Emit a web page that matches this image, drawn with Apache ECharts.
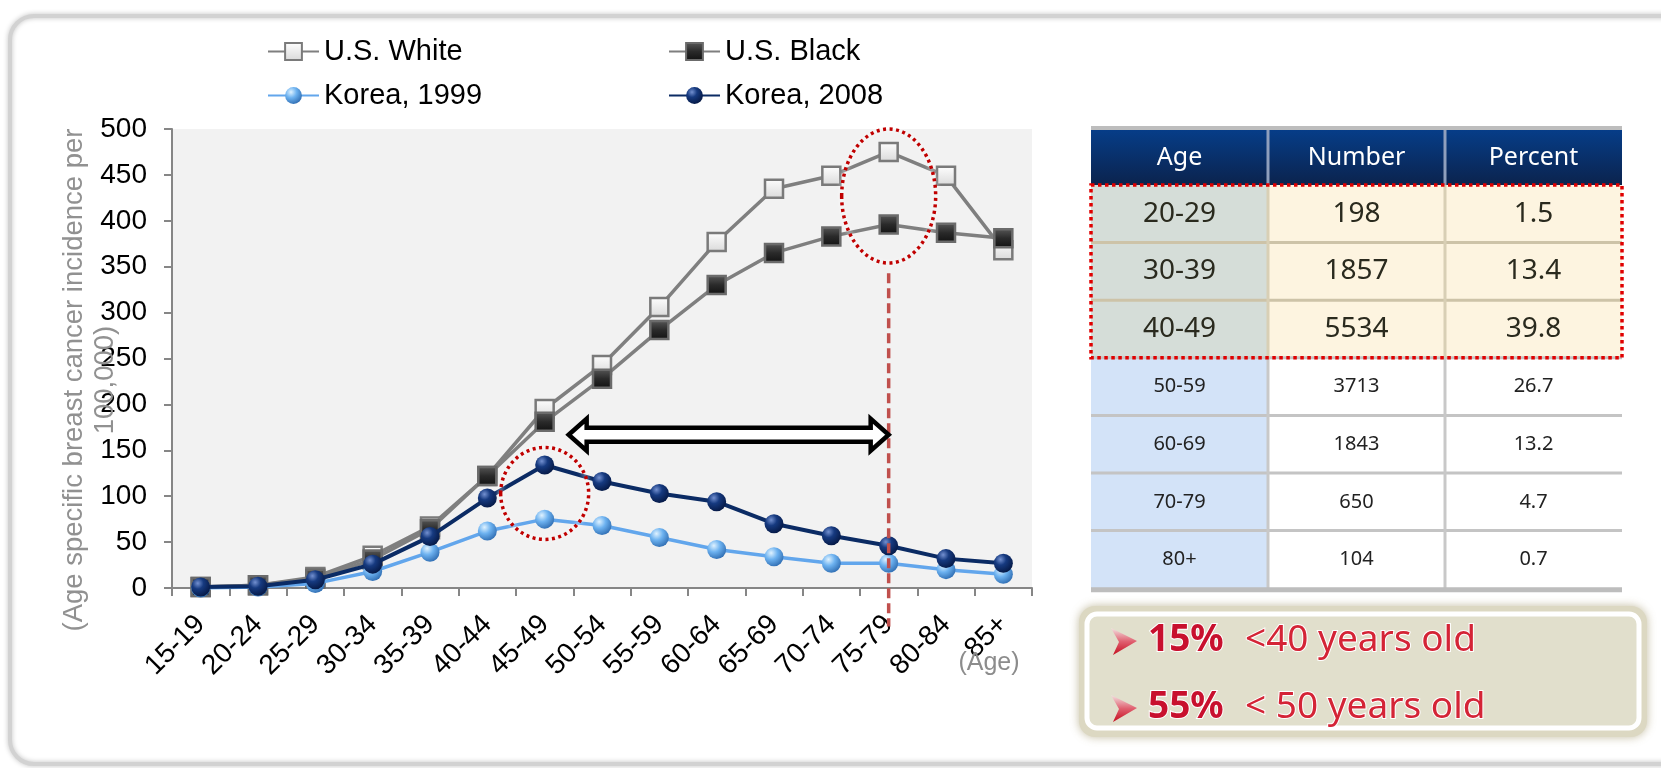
<!DOCTYPE html>
<html><head><meta charset="utf-8">
<script src="https://cdn.jsdelivr.net/npm/echarts@6/dist/echarts.min.js"></script>
<style>html,body{margin:0;padding:0;background:#fff}#c{width:1661px;height:768px}</style>
</head><body><div id="c"></div>
<script>
// ---------- data ----------
const ageGroups = ['15-19','20-24','25-29','30-34','35-39','40-44','45-49','50-54','55-59','60-64','65-69','70-74','75-79','80-84','85+'];
const usWhite   = [1, 3, 12, 35, 67, 122, 195, 243, 306, 377, 435, 449, 475, 449, 368];
const usBlack   = [1, 3, 10, 31, 64, 122, 181, 228, 281, 330, 365, 383, 396, 387, 381];
const korea1999 = [0, 1, 5, 18, 39, 62, 75, 68, 55, 42, 34, 27, 27, 20, 15];
const korea2008 = [1, 2, 9, 26, 56, 98, 134, 116, 103, 94, 70, 57, 46, 32, 27];
const yMin = 0, yMax = 500, yStep = 50;

const tableHeader  = ['Age', 'Number', 'Percent'];
const tableAge     = ['20-29','30-39','40-49','50-59','60-69','70-79','80+'];
const tableNumber  = ['198','1857','5534','3713','1843','650','104'];
const tablePercent = ['1.5','13.4','39.8','26.7','13.2','4.7','0.7'];
const highlightRows = 3;

const notePct  = ['15%', '55%'];
const noteText = ['<40 years old', '< 50 years old'];

const yTitle = '(Age specific breast cancer incidence per\n100,000)';
const xUnit = '(Age)';

// ---------- chart ----------
const chart = echarts.init(document.getElementById('c'), null, {renderer: 'canvas'});
const FF = "'Liberation Sans', Arial, sans-serif";
const G = echarts.graphic;

const whiteFill = new G.LinearGradient(0,0,0,1,[{offset:0,color:'#ffffff'},{offset:1,color:'#d9d9d9'}]);
const blackFill = new G.LinearGradient(0,0,0,1,[{offset:0,color:'#5a5a5a'},{offset:0.5,color:'#2a2a2a'},{offset:1,color:'#111111'}]);
const lightBall = new G.RadialGradient(0.35,0.3,0.75,[{offset:0,color:'#dff2ff'},{offset:0.45,color:'#6db2f0'},{offset:1,color:'#2f6db2'}]);
const darkBall  = new G.RadialGradient(0.35,0.3,0.75,[{offset:0,color:'#7390d0'},{offset:0.4,color:'#163a80'},{offset:1,color:'#051844'}]);

function legendAt(name, left, top) {
  return {data:[name], left:left, top:top, padding:0, itemWidth:51, itemHeight:21,
    textStyle:{fontSize:29, color:'#000', fontFamily:FF}};
}

const option = {
  animation: false,
  backgroundColor: '#ffffff',
  legend: [
    legendAt('U.S. White', 267, 37),
    legendAt('U.S. Black', 668, 37),
    legendAt('Korea, 1999', 267, 81),
    legendAt('Korea, 2008', 668, 81)
  ],
  grid: {left:172, top:129, width:860, height:459, show:true, backgroundColor:'#f2f2f2', borderWidth:0},
  xAxis: {
    type:'category', data: ageGroups, boundaryGap:true,
    axisLine:{show:true, lineStyle:{color:'#868686', width:2}},
    axisTick:{show:true, length:8, alignWithLabel:false, lineStyle:{color:'#868686', width:2}},
    axisLabel:{rotate:45, interval:0, fontSize:28, color:'#000', fontFamily:FF, margin:32},
    splitLine:{show:false}
  },
  yAxis: {
    type:'value', min:yMin, max:yMax, interval:yStep,
    axisLine:{show:true, lineStyle:{color:'#868686', width:2}},
    axisTick:{show:true, length:8, lineStyle:{color:'#868686', width:2}},
    axisLabel:{fontSize:28, color:'#000', fontFamily:FF, margin:25},
    splitLine:{show:false}
  },
  series: [
    {name:'U.S. White', type:'line', data:usWhite, symbol:'rect', symbolSize:18, z:2,
     lineStyle:{color:'#7f7f7f', width:3.5}, itemStyle:{color:whiteFill, borderColor:'#7a7a7a', borderWidth:2.5}},
    {name:'U.S. Black', type:'line', data:usBlack, symbol:'rect', symbolSize:18, z:3,
     lineStyle:{color:'#7f7f7f', width:3.5}, itemStyle:{color:blackFill, borderColor:'#6b6b6b', borderWidth:2.5}},
    {name:'Korea, 1999', type:'line', data:korea1999, symbol:'circle', symbolSize:19, z:4,
     lineStyle:{color:'#62a6ec', width:3.5}, itemStyle:{color:lightBall, borderWidth:0}},
    {name:'Korea, 2008', type:'line', data:korea2008, symbol:'circle', symbolSize:19, z:5,
     lineStyle:{color:'#0b2b64', width:4}, itemStyle:{color:darkBall, borderWidth:0}}
  ]
};
chart.setOption(option);

// ---------- annotations ----------
const px = (cat, val) => chart.convertToPixel({xAxisIndex:0, yAxisIndex:0}, [cat, val]);
const gfx = [];

// outer panel
gfx.push({type:'rect', silent:true, z:-5, shape:{x:10, y:16, width:1700, height:748, r:24},
  style:{fill:'none', stroke:'#d2d2d2', lineWidth:4, shadowBlur:5, shadowColor:'rgba(0,0,0,0.25)'}});

// axis titles
gfx.push({type:'text', z:10, x:90, y:380, rotation:Math.PI/2,
  style:{text:yTitle, fontSize:27.5, lineHeight:31, fill:'#919191', fontFamily:FF, align:'center', verticalAlign:'middle'}});
gfx.push({type:'text', z:10, x:989, y:663,
  style:{text:xUnit, fontSize:25, fill:'#8c8c8c', fontFamily:FF, align:'center', verticalAlign:'middle'}});

// red dotted ellipses
const e1 = px('75-79', 427);
gfx.push({type:'ellipse', z:100, shape:{cx:e1[0], cy:e1[1], rx:47, ry:67},
  style:{fill:'none', stroke:'#c00000', lineWidth:3.5, lineDash:[3,3.5], shadowBlur:4, shadowColor:'#ffffff'}});
const e2 = px('45-49', 103);
gfx.push({type:'ellipse', z:100, shape:{cx:e2[0], cy:e2[1], rx:44, ry:46},
  style:{fill:'none', stroke:'#c00000', lineWidth:3.5, lineDash:[3,3.5], shadowBlur:4, shadowColor:'#ffffff'}});

// dashed vertical line
const d1 = px('75-79', 343), d2 = px('75-79', -42);
gfx.push({type:'line', z:100, shape:{x1:d1[0], y1:d1[1], x2:d2[0], y2:d2[1]},
  style:{stroke:'#c0504d', lineWidth:3.5, lineDash:[10,5]}});

// double arrow
const aR = px('75-79', 167), aL0 = px('45-49', 167);
const xl = aL0[0] + 24, xr = aR[0], ay = aR[1];
const sh = 7, hh = 16, hl = 18;
gfx.push({type:'polygon', z:101, shape:{points:[
  [xl, ay], [xl+hl, ay-hh], [xl+hl, ay-sh], [xr-hl, ay-sh], [xr-hl, ay-hh], [xr, ay],
  [xr-hl, ay+hh], [xr-hl, ay+sh], [xl+hl, ay+sh], [xl+hl, ay+hh]]},
  style:{fill:'#ffffff', stroke:'#000000', lineWidth:4.5, lineJoin:'miter'}});

// ---------- table ----------
const TX = 1091, TW = 177, HY = 130, HH = 55, RY = 185, RH = 57.6;
const TF = "'Noto Sans', sans-serif";
gfx.push({type:'rect', z:5, shape:{x:TX, y:HY-4, width:TW*3, height:4}, style:{fill:'#bdbdbd'}});
gfx.push({type:'rect', z:5, shape:{x:TX, y:HY, width:TW*3, height:HH},
  style:{fill:new G.LinearGradient(0,0,0,1,[{offset:0,color:'#063d88'},{offset:1,color:'#0b234d'}])}});
tableHeader.forEach((h, c) => {
  gfx.push({type:'text', z:7, x:TX + TW*c + TW/2, y:HY + HH/2,
    style:{text:h, fontSize:25, fill:'#ffffff', fontFamily:TF, align:'center', verticalAlign:'middle'}});
});
const nRows = tableAge.length;
for (let r = 0; r < nRows; r++) {
  const y = RY + r*RH, hi = r < highlightRows;
  const cols = [tableAge[r], tableNumber[r], tablePercent[r]];
  cols.forEach((v, c) => {
    const fill = c === 0 ? (hi ? '#d5ddd8' : '#d3e3f8') : (hi ? '#fdf4e0' : '#ffffff');
    gfx.push({type:'rect', z:5, shape:{x:TX + TW*c, y:y, width:TW, height:RH}, style:{fill:fill}});
    gfx.push({type:'text', z:7, x:TX + TW*c + TW/2, y:y + RH/2,
      style:{text:v, fontSize: hi ? 28 : 20, fill: hi ? '#2a2a1e' : '#222222', fontFamily:TF, align:'center', verticalAlign:'middle'}});
  });
  if (r > 0) {
    gfx.push({type:'rect', z:6, shape:{x:TX, y:y-1.5, width:TW*3, height:3},
      style:{fill: r < highlightRows ? '#cdc3a8' : '#c4c4c4'}});
  }
}
for (let c = 1; c < 3; c++) {
  gfx.push({type:'rect', z:6, shape:{x:TX + TW*c - 1.5, y:HY, width:3, height:HH}, style:{fill:'#8f9fbd'}});
  gfx.push({type:'rect', z:6, shape:{x:TX + TW*c - 1.5, y:RY, width:3, height:RH*highlightRows}, style:{fill:'#d8cfb5'}});
  gfx.push({type:'rect', z:6, shape:{x:TX + TW*c - 1.5, y:RY + RH*highlightRows, width:3, height:RH*(nRows-highlightRows)}, style:{fill:'#c8c8c8'}});
}
gfx.push({type:'rect', z:6, shape:{x:TX, y:RY + RH*nRows - 1, width:TW*3, height:5}, style:{fill:'#bdbdbd'}});
gfx.push({type:'rect', z:8, shape:{x:TX, y:RY, width:TW*3, height:RH*highlightRows},
  style:{fill:'none', stroke:'#e00000', lineWidth:3.5, lineDash:[3.5,3.5]}});

// ---------- note box ----------
gfx.push({type:'rect', z:5, shape:{x:1079, y:606, width:568, height:131, r:16},
  style:{fill:'#dcd8c2', shadowBlur:10, shadowColor:'rgba(170,160,120,0.7)'}});
gfx.push({type:'rect', z:6, shape:{x:1087, y:614, width:552, height:114, r:10},
  style:{fill:'#e1dfcc', stroke:'#ffffff', lineWidth:5}});
const noteY = [640, 707];
notePct.forEach((p, i) => {
  const cy = noteY[i] + 1;
  gfx.push({type:'polygon', z:9, shape:{points:[[1137, cy], [1111, cy-13], [1119, cy+1], [1113, cy+14]]},
    style:{fill:new G.LinearGradient(0,0,0,1,[{offset:0,color:'#f3e3e3'},{offset:0.5,color:'#e06070'},{offset:1,color:'#c50e1f'}])}});
  gfx.push({type:'text', z:9, x:1148, y:noteY[i],
    style:{text:p, fontSize:37, fontWeight:'bold', fill:'#c8102e', fontFamily:TF, stroke:'#ffffff', lineWidth:2,
      verticalAlign:'middle', align:'left'}});
  gfx.push({type:'text', z:9, x:1245, y:noteY[i],
    style:{text:noteText[i], fontSize:37, fill:'#d42436', fontFamily:TF, stroke:'#ffffff', lineWidth:2,
      verticalAlign:'middle', align:'left'}});
});

chart.setOption({graphic: gfx});
</script>
</body></html>
